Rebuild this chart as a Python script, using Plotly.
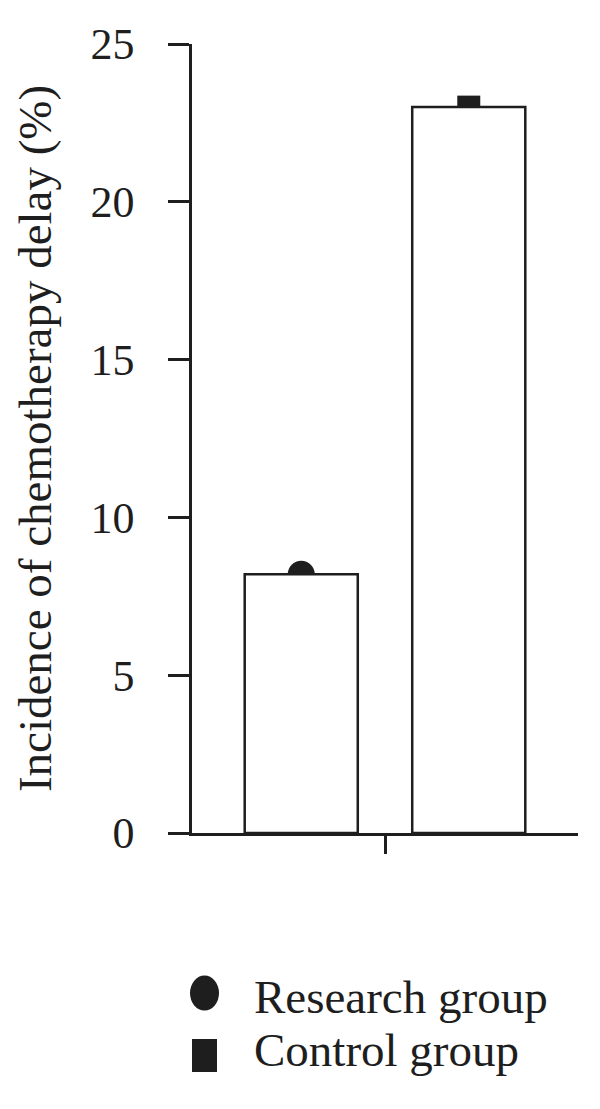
import plotly.graph_objects as go

# ---- data ----
groups = ["Research group", "Control group"]
bar_values = [8.2, 23.0]
point_values = [8.2, 23.0]
symbols = ["circle", "square"]
category = ["Incidence"]
y_ticks = [0, 5, 10, 15, 20, 25]

INK = "#1e1e1e"
FONT = "Liberation Serif"

fig = go.Figure()

# points (drawn underneath the bars)
for g, v, s in zip(groups, point_values, symbols):
    fig.add_trace(go.Scatter(
        x=category, y=[v], name=g, mode="markers",
        marker=dict(symbol=s, size=27 if s == "circle" else 23, color=INK, line=dict(width=0)),
        showlegend=False, xaxis="x", yaxis="y", cliponaxis=False,
    ))

# bars on an overlaying axis so they sit above the points
for g, v in zip(groups, bar_values):
    fig.add_trace(go.Bar(
        x=category, y=[v], name=g,
        marker=dict(color="white", line=dict(color=INK, width=2.5)),
        showlegend=False, xaxis="x", yaxis="y2",
    ))

fig.update_layout(
    width=600, height=1109,
    margin=dict(l=184, r=30, t=29, b=284),
    paper_bgcolor="white", plot_bgcolor="rgba(0,0,0,0)",
    barmode="group", bargap=0.132, bargroupgap=0.325,
    scattermode="group", scattergap=0.132,
    font=dict(family=FONT, color=INK, size=44),
    showlegend=False,
    xaxis=dict(
        type="category", range=[-0.5, 0.5],
        showline=True, linecolor=INK, linewidth=2.5,
        ticks="outside", ticklen=18, tickwidth=2.5, tickcolor=INK,
        showticklabels=False, showgrid=False, zeroline=False,
    ),
    yaxis=dict(
        range=[0, 25], tickvals=y_ticks,
        showline=True, linecolor=INK, linewidth=2.5,
        ticks="outside", ticklen=21, tickwidth=2.5, tickcolor=INK,
        tickfont=dict(family=FONT, size=44, color=INK),
        ticklabelstandoff=25,
        showgrid=False, zeroline=False,
        title=dict(text="Incidence of chemotherapy delay (%)",
                   font=dict(family=FONT, size=47, color=INK), standoff=25),
    ),
    yaxis2=dict(range=[0, 25], overlaying="y", visible=False),
)

# manual legend
leg_y = [-0.2029, -0.282]
text_y = [-0.2073, -0.2751]
sizes = [(29, 35), (25, 33)]
for g, s, ly, ty, (w, h) in zip(groups, symbols, leg_y, text_y, sizes):
    fig.add_shape(
        type="circle" if s == "circle" else "rect",
        xref="paper", yref="paper", xsizemode="pixel", ysizemode="pixel",
        xanchor=0.0324, yanchor=ly,
        x0=-w / 2, x1=w / 2, y0=-h / 2, y1=h / 2,
        fillcolor=INK, line=dict(width=0),
    )
    fig.add_annotation(
        text=g, xref="paper", yref="paper", x=0.1554, y=ty,
        xanchor="left", yanchor="middle", showarrow=False,
        font=dict(family=FONT, size=47, color=INK),
    )

fig.write_html("out.html")
